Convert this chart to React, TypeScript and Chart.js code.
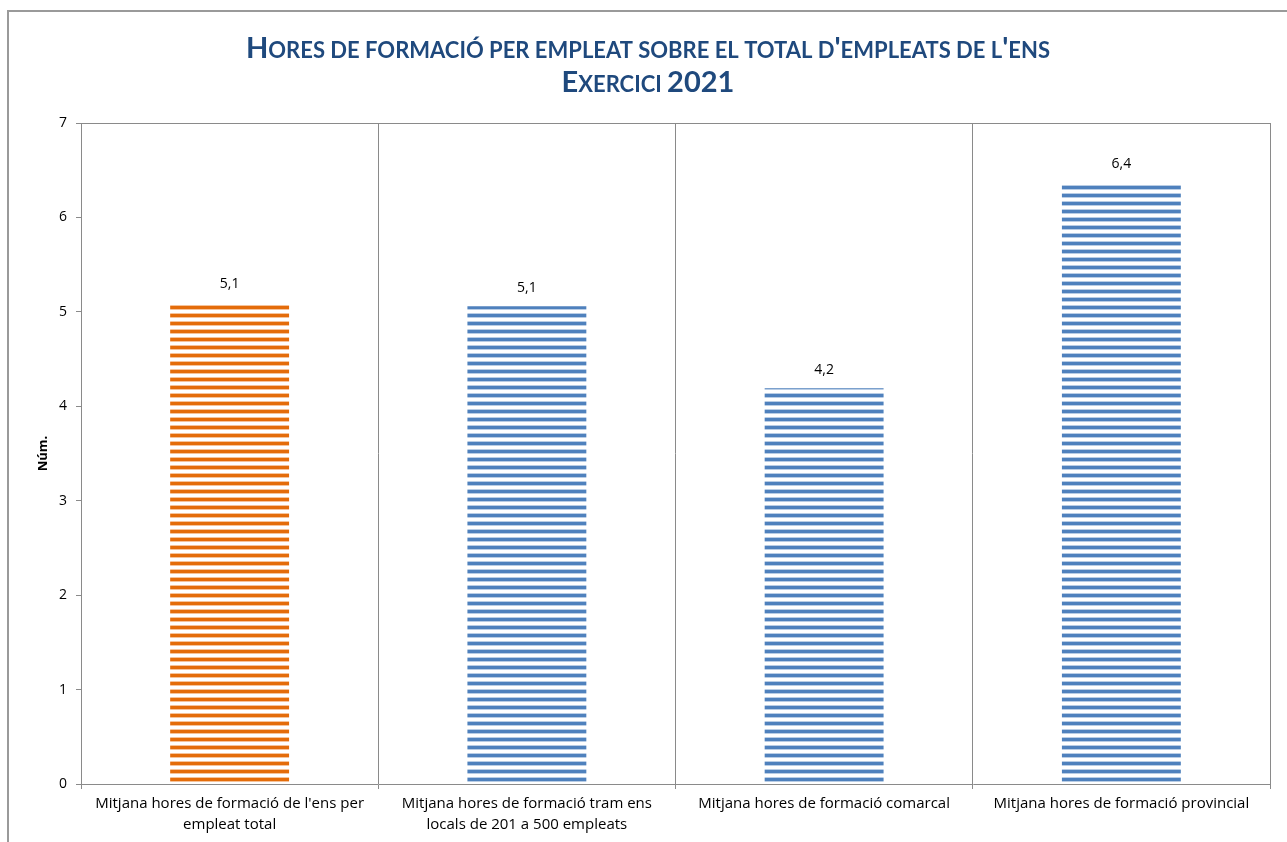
import React, { useEffect, useRef } from "react";
import { Chart, registerables } from "chart.js";

Chart.register(...registerables);

const titleLines = [
  "Hores de formació per empleat sobre el total d'empleats de l'ens",
  "Exercici 2021",
];
const categories = [
  ["Mitjana hores de formació de l'ens per", "empleat total"],
  ["Mitjana hores de formació tram ens", "locals de 201 a 500 empleats"],
  ["Mitjana hores de formació comarcal"],
  ["Mitjana hores de formació provincial"],
];
const values = [5.1, 5.06, 4.19, 6.37];
const yTitle = "Núm.";
const yMin = 0;
const yMax = 7;
const yStep = 1;
const highlightIndex = 0;

const W = 1287;
const H = 842;
const FONT = "'Open Sans', 'DejaVu Sans', sans-serif";
const TITLE_FONT = "Lato, 'Open Sans', sans-serif";
const AXIS_COLOR = "#8a8a8a";

function makeStripe(dark: string, fringe: string) {
  const c = document.createElement("canvas");
  c.width = 8;
  c.height = 8;
  const g = c.getContext("2d")!;
  g.fillStyle = "#ffffff";
  g.fillRect(0, 0, 8, 8);
  g.fillStyle = fringe;
  g.fillRect(0, 1, 8, 1);
  g.fillRect(0, 5, 8, 1);
  g.fillStyle = dark;
  g.fillRect(0, 2, 8, 3);
  const ctx = document.createElement("canvas").getContext("2d")!;
  return ctx.createPattern(c, "repeat")!;
}

function drawSmallCaps(ctx: CanvasRenderingContext2D, text: string, cx: number, baseline: number, big: number, small: number) {
  const runs: { t: string; size: number }[] = [];
  for (const ch of text) {
    const isLower = ch !== ch.toUpperCase();
    const size = isLower || ch === " " ? small : big;
    const t = isLower ? ch.toUpperCase() : ch;
    const last = runs[runs.length - 1];
    if (last && last.size === size) last.t += t;
    else runs.push({ t, size });
  }
  let total = 0;
  const widths = runs.map((r) => {
    ctx.font = `bold ${r.size}px ${TITLE_FONT}`;
    const w = ctx.measureText(r.t).width;
    total += w;
    return w;
  });
  let x = cx - total / 2;
  runs.forEach((r, i) => {
    ctx.font = `bold ${r.size}px ${TITLE_FONT}`;
    ctx.fillText(r.t, x, baseline);
    x += widths[i];
  });
}

const decorPlugin = {
  id: "decor",
  beforeDraw(chart: any) {
    const ctx = chart.ctx;
    ctx.save();
    ctx.fillStyle = "#ffffff";
    ctx.fillRect(0, 0, W, H);
    ctx.fillStyle = "#9a9a9a";
    ctx.fillRect(7, 10, 2, H - 10);
    ctx.fillRect(7, 10, W - 7, 2);
    ctx.restore();
  },
  afterDraw(chart: any) {
    const ctx = chart.ctx;
    const a = chart.chartArea;
    ctx.save();
    ctx.strokeStyle = AXIS_COLOR;
    ctx.lineWidth = 1;
    ctx.beginPath();
    ctx.moveTo(a.left, Math.round(a.top) + 0.5);
    ctx.lineTo(a.right, Math.round(a.top) + 0.5);
    ctx.moveTo(Math.round(a.right) + 0.5, a.top);
    ctx.lineTo(Math.round(a.right) + 0.5, a.bottom);
    ctx.stroke();
    // title, centred on the whole chart frame
    ctx.fillStyle = "#1F497D";
    ctx.textAlign = "left";
    ctx.textBaseline = "alphabetic";
    const cx = 648;
    drawSmallCaps(ctx, titleLines[0], cx, 58, 29, 22);
    drawSmallCaps(ctx, titleLines[1], cx, 92, 29, 22);
    // data labels
    const meta = chart.getDatasetMeta(0);
    ctx.fillStyle = "#000000";
    ctx.font = `14px ${FONT}`;
    ctx.textAlign = "center";
    ctx.textBaseline = "middle";
    meta.data.forEach((bar: any, i: number) => {
      const v = values[i];
      ctx.fillText(v.toFixed(1).replace(".", ","), bar.x, bar.y - 18);
    });
    ctx.restore();
  },
};

export default function App() {
  const ref = useRef<HTMLCanvasElement>(null);
  useEffect(() => {
    const orange = makeStripe("#E46C0A", "#F6C39A");
    const blue = makeStripe("#4F81BD", "#B9CDE5");
    const chart = new Chart(ref.current!, {
      type: "bar",
      data: {
        labels: categories,
        datasets: [
          {
            data: values,
            backgroundColor: values.map((_, i) => (i === highlightIndex ? orange : blue)),
            borderWidth: 0,
            categoryPercentage: 1,
            barPercentage: 0.4,
          },
        ],
      },
      options: {
        responsive: false,
        animation: false,
        layout: { padding: { left: 35, top: 123, right: 17, bottom: 0 } },
        plugins: {
          legend: { display: false },
          title: { display: false },
          tooltip: { enabled: false },
        },
        scales: {
          x: {
            afterFit: (s: any) => {
              s.height = 58;
            },
            grid: {
              display: true,
              offset: true,
              color: AXIS_COLOR,
              drawOnChartArea: true,
              drawTicks: true,
              tickLength: 5,
            },
            border: { display: true, color: AXIS_COLOR },
            ticks: {
              color: "#000000",
              font: { family: FONT, size: 15, lineHeight: "21px" },
              padding: 4,
              maxRotation: 0,
              autoSkip: false,
            },
          },
          y: {
            min: yMin,
            max: yMax,
            afterFit: (s: any) => {
              s.width = 46;
            },
            grid: {
              drawOnChartArea: false,
              drawTicks: true,
              tickLength: 5,
              color: AXIS_COLOR,
            },
            border: { display: true, color: AXIS_COLOR },
            ticks: {
              stepSize: yStep,
              color: "#000000",
              font: { family: FONT, size: 14 },
              padding: 9,
            },
            title: {
              display: true,
              text: yTitle,
              color: "#000000",
              font: { family: FONT, size: 13, weight: "bold" },
              padding: 0,
            },
          },
        },
      },
      plugins: [decorPlugin],
    });
    return () => chart.destroy();
  }, []);
  return (
    <div style={{ position: "absolute", left: 0, top: 0, width: W, height: H }}>
      <canvas ref={ref} width={W} height={H} style={{ display: "block", width: W, height: H }} />
    </div>
  );
}
